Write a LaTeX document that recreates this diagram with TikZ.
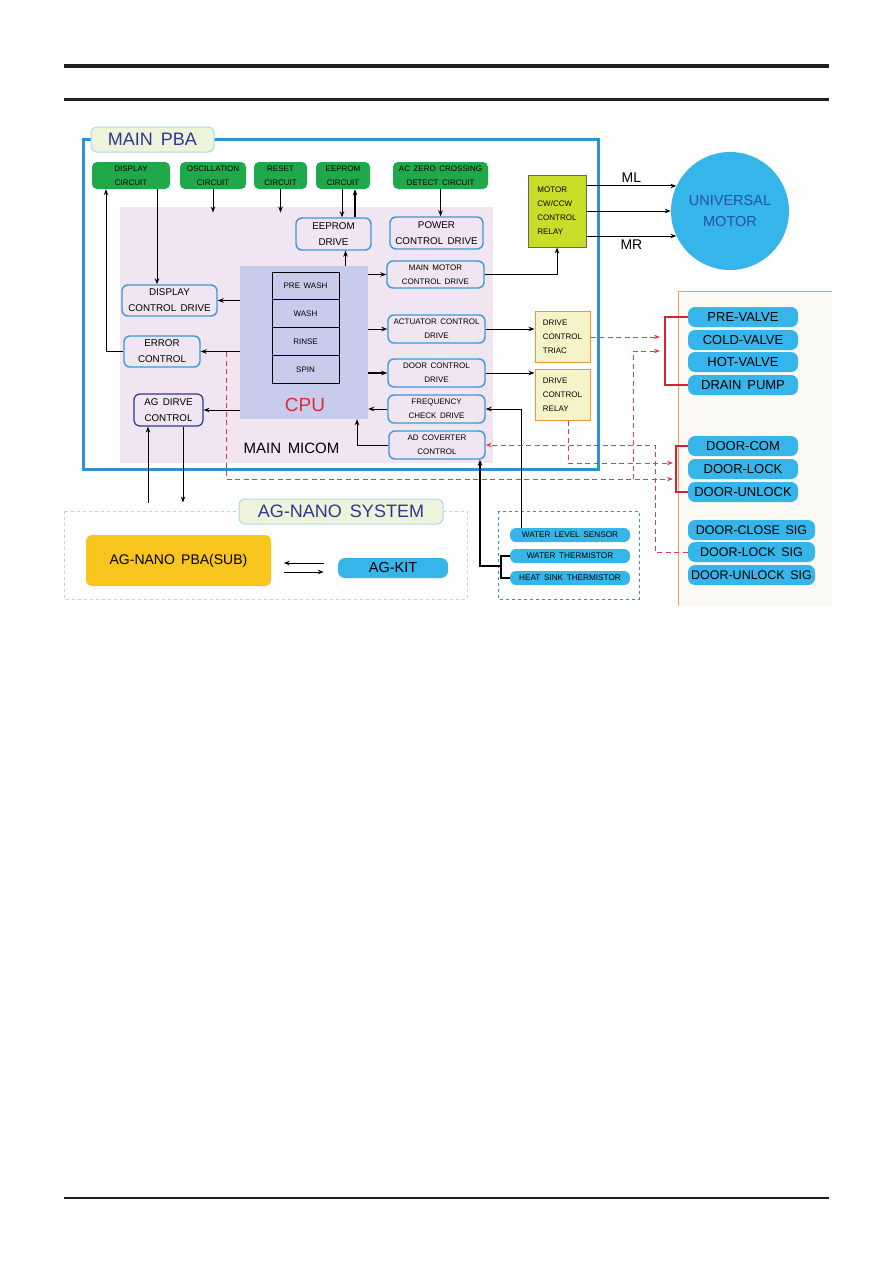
\documentclass[tikz,border=0pt]{standalone}
\usepackage{fontspec}
\setmainfont{Liberation Sans}[WordSpace=1.6]
\usepackage{xcolor}
\usetikzlibrary{arrows.meta, positioning, calc}

\definecolor{pbablue}{HTML}{2E92D0}
\definecolor{boxblue}{HTML}{3A9AD9}
\definecolor{micompink}{HTML}{F0E5F1}
\definecolor{cpulav}{HTML}{C6CCEA}
\definecolor{circgreen}{HTML}{1FA94B}
\definecolor{pillblue}{HTML}{35B5EA}
\definecolor{nanogold}{HTML}{F8C41E}
\definecolor{relaylime}{HTML}{CADC2A}
\definecolor{triacfill}{HTML}{F7F3C9}
\definecolor{triacedge}{HTML}{E8983A}
\definecolor{bracketred}{HTML}{D5213A}
\definecolor{dashred}{HTML}{E03A4C}
\definecolor{tabfill}{HTML}{EEF4DA}
\definecolor{tabedge}{HTML}{A9D9EC}
\definecolor{titlenavy}{HTML}{2B3990}
\definecolor{motortext}{HTML}{2A50A2}
\definecolor{panelfill}{HTML}{FBFAF5}
\definecolor{paneledge}{HTML}{E9A062}
\definecolor{cpured}{HTML}{E0283C}

\begin{document}
\begin{tikzpicture}[x=1pt, y=-1pt,
    greenbox/.style={rectangle, fill=circgreen, rounded corners=5pt, minimum height=27pt, align=center, inner sep=1pt, font=\fontsize{8}{13.5}\selectfont},
    drivebox/.style={rectangle, draw=boxblue, line width=1.4pt, rounded corners=6pt, align=center, inner sep=1pt, font=\fontsize{9.8}{16}\selectfont},
    smalldrive/.style={drivebox, font=\fontsize{8}{14}\selectfont},
    stagebox/.style={rectangle, draw=black, line width=0.9pt, minimum width=67pt, minimum height=27.75pt, font=\fontsize{8}{9}\selectfont},
    relaybox/.style={rectangle, align=left, inner sep=1pt, font=\fontsize{8}{14}\selectfont},
    pill/.style={rectangle, fill=pillblue, rounded corners=7pt, minimum width=110pt, minimum height=20pt, inner sep=1pt, font=\fontsize{13}{13}\selectfont},
    sensorpill/.style={pill, rounded corners=6pt, minimum width=120pt, minimum height=14pt, font=\fontsize{8.2}{9}\selectfont},
    titletab/.style={rectangle, fill=tabfill, draw=tabedge, line width=1pt, rounded corners=6pt, text=titlenavy, font=\fontsize{18}{20}\selectfont},
    arrow/.style={->, >={Stealth[length=6pt, width=4.5pt]}, line width=1pt},
    redarrow/.style={->, >={Stealth[length=6pt, width=4.5pt]}, draw=dashred, line width=0.9pt, dash pattern=on 5pt off 3.5pt},
    redbracket/.style={draw=bracketred, line width=2pt}
]
    \useasboundingbox (0,0) rectangle (893,1263);

    \draw[line width=4pt, black!88] (64,66) -- (829,66);
    \draw[line width=3pt, black!88] (64,99) -- (829,99);
    \draw[line width=1.3pt, black!88] (64,1198) -- (829,1198);

    \fill[panelfill] (678,291) rectangle (832,606);
    \draw[paneledge, line width=1pt] (832,291) -- (678,291) -- (678,606);

    \draw[pbablue, line width=3pt] (83,139) rectangle (598,469);
    \node[rectangle, fill=micompink, minimum width=373pt, minimum height=256pt] (micom) at (306.5,334.75) {};
    \node[rectangle, fill=cpulav, minimum width=128pt, minimum height=153pt] (cpu) at (304,342.5) {};
    \node[stagebox] (prewash) at (305.5,286) {PRE WASH};
    \node[stagebox] (wash) at (305.5,313.75) {WASH};
    \node[stagebox] (rinse) at (305.5,341.5) {RINSE};
    \node[stagebox] (spin) at (305.5,369.25) {SPIN};
    \node[text=cpured, font=\fontsize{19}{20}\selectfont] (cpulabel) at (305,404.5) {CPU};
    \node[font=\fontsize{15}{16}\selectfont] (micomlabel) at (291.5,448.5) {MAIN MICOM};
    \node[titletab, minimum width=123pt, minimum height=25pt] (pbatitle) at (152.5,139.5) {MAIN PBA};

    \node[greenbox, minimum width=78pt] (dispcir) at (131,175.5) {DISPLAY\\CIRCUIT};
    \node[greenbox, minimum width=66pt] (osccir) at (213,175.5) {OSCILLATION\\CIRCUIT};
    \node[greenbox, minimum width=53pt] (rstcir) at (280.5,175.5) {RESET\\CIRCUIT};
    \node[greenbox, minimum width=54pt] (eepcir) at (343,175.5) {EEPROM\\CIRCUIT};
    \node[greenbox, minimum width=95pt] (accir) at (440.5,175.5) {AC ZERO CROSSING\\DETECT CIRCUIT};

    \node[drivebox, minimum width=75pt, minimum height=32pt] (eepdrv) at (333.5,234) {EEPROM\\DRIVE};
    \node[drivebox, minimum width=93pt, minimum height=32pt] (pwrdrv) at (436.5,233) {POWER\\CONTROL DRIVE};
    \node[smalldrive, minimum width=97pt, minimum height=27pt] (mmdrv) at (435.5,274.5) {MAIN MOTOR\\CONTROL DRIVE};
    \node[drivebox, minimum width=95pt, minimum height=31pt] (dispdrv) at (169.5,300.5) {DISPLAY\\CONTROL DRIVE};
    \node[smalldrive, minimum width=97pt, minimum height=28pt] (actdrv) at (436.5,329) {ACTUATOR CONTROL\\DRIVE};
    \node[drivebox, minimum width=76pt, minimum height=31pt] (errctl) at (162,351.5) {ERROR\\CONTROL};
    \node[smalldrive, minimum width=97pt, minimum height=28pt] (doordrv) at (436.5,373) {DOOR CONTROL\\DRIVE};
    \node[smalldrive, minimum width=97pt, minimum height=28pt] (freqdrv) at (436.5,409) {FREQUENCY\\CHECK DRIVE};
    \node[drivebox, draw=titlenavy, line width=1.2pt, minimum width=69pt, minimum height=32pt] (agdrv) at (168.5,410) {AG DIRVE\\CONTROL};
    \node[smalldrive, minimum width=96pt, minimum height=28pt] (addrv) at (437,445) {AD COVERTER\\CONTROL};

    \node[relaybox, fill=relaylime, draw=black!60, line width=1pt, minimum width=58pt, minimum height=72pt] (relay) at (557,211) {MOTOR\\CW/CCW\\CONTROL\\RELAY};
    \node[circle, fill=pillblue, minimum size=118pt, align=center, text=motortext, font=\fontsize{14.5}{21}\selectfont] (motor) at (730,211) {UNIVERSAL\\MOTOR};
    \node[relaybox, fill=triacfill, draw=triacedge, line width=1pt, minimum width=55pt, minimum height=51pt] (triac) at (562.5,336.5) {DRIVE\\CONTROL\\TRIAC};
    \node[relaybox, fill=triacfill, draw=triacedge, line width=1pt, minimum width=55pt, minimum height=51pt] (relaytwo) at (562.5,394.5) {DRIVE\\CONTROL\\RELAY};

    \node[pill] (prevalve) at (743,317) {PRE-VALVE};
    \node[pill] (coldvalve) at (743,340) {COLD-VALVE};
    \node[pill] (hotvalve) at (743,362) {HOT-VALVE};
    \node[pill] (drainpump) at (743,385) {DRAIN PUMP};
    \node[pill] (doorcom) at (743,446) {DOOR-COM};
    \node[pill] (doorlock) at (743,469) {DOOR-LOCK};
    \node[pill] (doorunlock) at (743,492) {DOOR-UNLOCK};
    \node[pill, minimum width=127pt, font=\fontsize{12.5}{13}\selectfont] (closesig) at (751.5,530) {DOOR-CLOSE SIG};
    \node[pill, minimum width=127pt, font=\fontsize{12.5}{13}\selectfont] (locksig) at (751.5,552) {DOOR-LOCK SIG};
    \node[pill, minimum width=127pt, font=\fontsize{12.5}{13}\selectfont] (unlocksig) at (751.5,575) {DOOR-UNLOCK SIG};

    \draw[pbablue, line width=1pt, dashed] (498,511) rectangle (639,599);
    \node[sensorpill] (wlsens) at (570,535) {WATER LEVEL SENSOR};
    \node[sensorpill] (wtherm) at (570,556) {WATER THERMISTOR};
    \node[sensorpill] (hstherm) at (570,578) {HEAT SINK THERMISTOR};

    \draw[tabedge, line width=1pt, dashed] (64,511) rectangle (467,599);
    \node[titletab, minimum width=204pt, minimum height=25pt] (nanotitle) at (341,511.5) {AG-NANO SYSTEM};
    \node[rectangle, fill=nanogold, rounded corners=6pt, minimum width=185pt, minimum height=51pt, font=\fontsize{14}{15}\selectfont] (agpba) at (178.5,560.5) {AG-NANO PBA(SUB)};
    \node[pill, font=\fontsize{14.5}{15}\selectfont] (agkit) at (393,568) {AG-KIT};

    \coordinate (vtipA) at (660,337);
    \coordinate (vtipB) at (660,351);
    \coordinate (vjoin) at (633,479);
    \coordinate (dtipA) at (673,463);
    \coordinate (dtipB) at (673,479);
    \coordinate (errtap) at (226,352);
    \coordinate (sigturn) at (655,445);
    \coordinate (thbrk) at (501,566);

    \draw[arrow] ([xshift=26pt]dispcir.south) -- ([xshift=26pt]dispcir.south |- dispdrv.north);
    \draw[arrow] (errctl.west) -| ([xshift=-25pt]dispcir.south);
    \draw[arrow] (osccir.south) -- ([yshift=-6pt]osccir.south |- micom.north);
    \draw[arrow] (rstcir.south) -- ([yshift=-6pt]rstcir.south |- micom.north);
    \draw[arrow] ([xshift=-1pt]eepcir.south) -- ([xshift=-1pt]eepcir.south |- eepdrv.north);
    \draw[arrow, line width=2pt] ([xshift=12pt]eepcir.south |- eepdrv.north) -- ([xshift=12pt]eepcir.south);
    \draw[arrow] ([xshift=12pt]eepdrv.south |- cpu.north) -- ([xshift=12pt]eepdrv.south);
    \draw[arrow] (accir.south) -- (accir.south |- pwrdrv.north);
    \draw[arrow] (cpu.east |- mmdrv) -- (mmdrv.west);
    \draw[arrow] (mmdrv.east) -| (relay.south);
    \draw[arrow] (relay.east |- motor.155) -- node[above, font=\fontsize{14}{16}\selectfont] {ML} (motor.155);
    \draw[arrow] (relay.east |- motor.west) -- (motor.west);
    \draw[arrow] (relay.east |- motor.205) -- node[below, font=\fontsize{14}{16}\selectfont] {MR} (motor.205);
    \draw[arrow] (cpu.west |- dispdrv) -- (dispdrv.east);
    \draw[arrow] (cpu.west |- errctl) -- (errctl.east);
    \draw[arrow] (cpu.west |- agdrv) -- (agdrv.east);
    \draw[arrow] (cpu.east |- actdrv) -- (actdrv.west);
    \draw[arrow] (actdrv.east) -- (actdrv.east -| triac.west);
    \draw[arrow, line width=2pt] (cpu.east |- doordrv) -- (doordrv.west);
    \draw[arrow] (doordrv.east) -- (doordrv.east -| relaytwo.west);
    \draw[arrow] (freqdrv.west) -- (freqdrv.west -| cpu.east);
    \draw[arrow] (addrv.west) -| ([xshift=53pt]cpu.south);
    \draw[arrow] ([xshift=12pt]wlsens.north west) |- (freqdrv.east);
    \draw[line width=1.5pt] (wtherm.west) -| (thbrk) |- (hstherm.west);
    \draw[arrow, line width=2pt] (thbrk) -| ([xshift=43pt]addrv.south);
    \draw[arrow] ([xshift=-20.5pt, yshift=-4pt]agdrv.south |- nanotitle.north) -- ([xshift=-20.5pt]agdrv.south);
    \draw[arrow] ([xshift=14.5pt]agdrv.south) -- ([xshift=14.5pt, yshift=-4pt]agdrv.south |- nanotitle.north);
    \draw[arrow] ([xshift=-14pt, yshift=5pt]agkit.west) -- ([xshift=-54pt, yshift=5pt]agkit.west);
    \draw[arrow] ([xshift=-54pt, yshift=-4pt]agkit.west) -- ([xshift=-14pt, yshift=-4pt]agkit.west);

    \draw[redbracket] (prevalve.west) -- ++(-23,0) |- (drainpump.west);
    \draw[redbracket] (doorcom.west) -- ++(-12,0) |- (doorunlock.west);
    \draw[redarrow] (triac.east |- vtipA) -- (vtipA);
    \draw[redarrow] (vjoin) |- (vtipB);
    \draw[redarrow] (errtap) |- (dtipB);
    \draw[redarrow] ([xshift=5.5pt]relaytwo.south) |- (dtipA);
    \draw[redarrow] (locksig.west) -| (sigturn) -- (addrv.east);
\end{tikzpicture}
\end{document}
